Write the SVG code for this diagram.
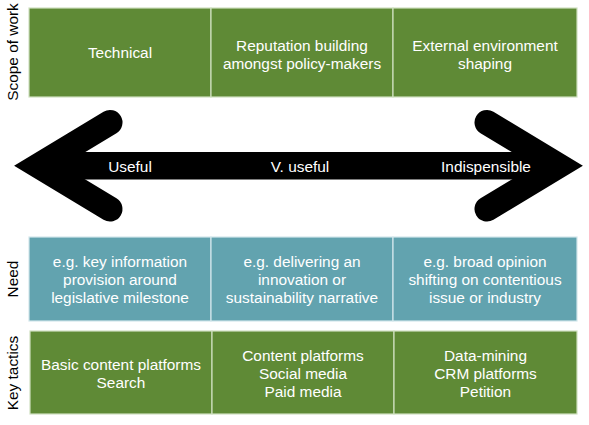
<svg xmlns="http://www.w3.org/2000/svg" width="589" height="425" viewBox="0 0 589 425">
<style>
text{font-family:"Liberation Sans",Arial,sans-serif;font-size:15.4px;}
.g{fill:#5F8A36;stroke:#cfe0c0;stroke-width:1.2;}
.b{fill:#62A3AF;stroke:#d3e7eb;stroke-width:1.2;}
.t{fill:#ffffff;text-anchor:middle;}
.s{fill:#000000;text-anchor:middle;}
.a{fill:#ffffff;text-anchor:middle;}
</style>
<rect width="589" height="425" fill="#ffffff"/>

<g id="label-scope"><text class="s" transform="translate(18,52) rotate(-90)">Scope of work</text></g>
<g id="label-need"><text class="s" transform="translate(18,279) rotate(-90)">Need</text></g>
<g id="label-tactics"><text class="s" transform="translate(18,373) rotate(-90)">Key tactics</text></g>

<g id="scope-technical"><rect class="g" x="29" y="8" width="182" height="89"/><text class="t" x="120" y="58">Technical</text></g>
<g id="scope-reputation"><rect class="g" x="211" y="8" width="182" height="89"/><text class="t" x="302" y="50.5">Reputation building</text><text class="t" x="302" y="68.8">amongst policy-makers</text></g>
<g id="scope-external"><rect class="g" x="393" y="8" width="184" height="89"/><text class="t" x="485" y="50.5">External environment</text><text class="t" x="485" y="68.8">shaping</text></g>

<g id="connectors">
<rect x="50" y="152" width="497" height="27.5" fill="#000"/>
<polyline points="110,122.5 38.3,165.8 110,209" fill="none" stroke="#000" stroke-width="25" stroke-linecap="round" stroke-linejoin="miter" stroke-miterlimit="10"/>
<polyline points="487,122.5 558.7,165.8 487,209" fill="none" stroke="#000" stroke-width="25" stroke-linecap="round" stroke-linejoin="miter" stroke-miterlimit="10"/>
<text class="a" x="130" y="171.5">Useful</text>
<text class="a" x="300" y="171.5">V. useful</text>
<text class="a" x="486" y="171.5">Indispensible</text>
</g>

<g id="need-key"><rect class="b" x="29" y="237" width="182" height="84"/><text class="t" x="120" y="266.5">e.g. key information</text><text class="t" x="120" y="284.9">provision around</text><text class="t" x="120" y="303.3">legislative milestone</text></g>
<g id="need-delivering"><rect class="b" x="211" y="237" width="182" height="84"/><text class="t" x="302" y="266.5">e.g. delivering an</text><text class="t" x="302" y="284.9">innovation or</text><text class="t" x="302" y="303.3">sustainability narrative</text></g>
<g id="need-broad"><rect class="b" x="393" y="237" width="184" height="84"/><text class="t" x="485" y="266.5">e.g. broad opinion</text><text class="t" x="485" y="284.9">shifting on contentious</text><text class="t" x="485" y="303.3">issue or industry</text></g>

<g id="tactics-basic"><rect class="g" x="30" y="331" width="182" height="83"/><text class="t" x="121" y="369.8">Basic content platforms</text><text class="t" x="121" y="388.2">Search</text></g>
<g id="tactics-content"><rect class="g" x="212" y="331" width="182" height="83"/><text class="t" x="303" y="360.5">Content platforms</text><text class="t" x="303" y="378.9">Social media</text><text class="t" x="303" y="397.3">Paid media</text></g>
<g id="tactics-data"><rect class="g" x="394" y="331" width="183" height="83"/><text class="t" x="485.5" y="360.5">Data-mining</text><text class="t" x="485.5" y="378.9">CRM platforms</text><text class="t" x="485.5" y="397.3">Petition</text></g>
</svg>
